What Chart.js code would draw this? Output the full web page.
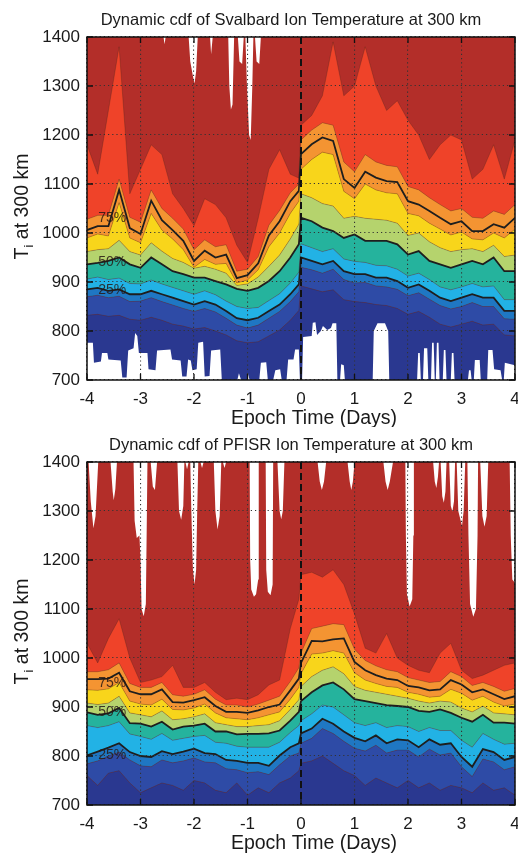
<!DOCTYPE html>
<html>
<head>
<meta charset="utf-8">
<script src="https://cdn.jsdelivr.net/npm/chart.js@4.4.1/dist/chart.umd.min.js"></script>
<style>
  body { margin: 0; background: #fff; }
  canvas { display: block; }
</style>
</head>
<body>
<canvas id="svalbard" width="518" height="427"></canvas>
<canvas id="pfisr" width="518" height="427"></canvas>
<script>
// Epoch time samples (days) shared by every percentile curve
const days = [-4, -3.8, -3.6, -3.4, -3.2, -3, -2.8, -2.6, -2.4, -2.2, -2, -1.8, -1.6, -1.4, -1.2, -1, -0.8, -0.6, -0.4, -0.2, -0.04,
              0, 0.2, 0.4, 0.6, 0.8, 1, 1.2, 1.4, 1.6, 1.8, 2, 2.2, 2.4, 2.6, 2.8, 3, 3.2, 3.4, 3.6, 3.8, 4];
const dayTicks = [-4, -3, -2, -1, 0, 1, 2, 3, 4];
const tempTicks = [700, 800, 900, 1000, 1100, 1200, 1300, 1400];
const levelNames = ['5%', '15%', '25%', '35%', '50%', '60%', '70%', '75%', '80%', '90%'];

// Svalbard percentile curves (K)
const svP05 = [832, 834, 830, 832, 824, 822, 828, 822, 814, 810, 804, 807, 800, 792, 780, 776, 778, 790, 802, 822, 842, 892, 886, 880, 884, 864, 860, 858, 854, 852, 846, 834, 840, 828, 814, 808, 814, 820, 812, 814, 792, 790];
const svP15 = [870, 873, 868, 871, 860, 861, 868, 860, 853, 846, 840, 846, 839, 826, 812, 806, 812, 826, 840, 860, 880, 930, 925, 918, 926, 905, 898, 899, 892, 890, 885, 872, 878, 865, 852, 845, 850, 858, 850, 850, 825, 824];
const svP25 = [885, 888, 882, 885, 875, 875, 882, 875, 868, 861, 854, 861, 854, 841, 826, 822, 827, 841, 854, 875, 895, 950, 943, 936, 943, 922, 916, 916, 909, 909, 902, 888, 895, 882, 868, 861, 868, 875, 868, 868, 841, 841];
const svP35 = [906, 910, 905, 908, 897, 896, 904, 896, 889, 882, 875, 882, 874, 861, 850, 846, 848, 862, 876, 898, 920, 978, 970, 962, 968, 947, 942, 940, 934, 933, 926, 912, 918, 905, 890, 884, 890, 897, 890, 892, 864, 864];
const svP50 = [936, 939, 943, 950, 936, 929, 950, 936, 922, 916, 909, 909, 902, 895, 886, 882, 888, 902, 922, 950, 977, 1031, 1024, 1011, 1004, 990, 997, 984, 984, 984, 977, 956, 963, 943, 936, 929, 936, 943, 936, 950, 922, 922];
const svP60 = [962, 966, 968, 985, 962, 955, 980, 963, 948, 940, 928, 932, 926, 918, 893, 896, 910, 932, 955, 988, 1018, 1080, 1072, 1060, 1055, 1030, 1034, 1030, 1028, 1026, 1020, 995, 1000, 982, 970, 962, 966, 968, 962, 975, 952, 955];
const svP70 = [990, 998, 994, 1062, 990, 980, 1040, 1006, 988, 966, 930, 946, 936, 938, 898, 904, 925, 972, 1000, 1040, 1065, 1130, 1150, 1165, 1160, 1085, 1070, 1100, 1088, 1082, 1080, 1040, 1035, 1020, 1008, 996, 1002, 988, 986, 1000, 990, 1008];
const svP75 = [1006, 1014, 1014, 1088, 1010, 998, 1066, 1026, 1006, 984, 943, 964, 950, 956, 908, 914, 938, 995, 1024, 1065, 1086, 1161, 1181, 1195, 1188, 1110, 1092, 1125, 1113, 1106, 1104, 1065, 1058, 1045, 1031, 1018, 1024, 1004, 1004, 1018, 1011, 1031];
const svP80 = [1028, 1036, 1036, 1110, 1032, 1022, 1088, 1050, 1030, 1008, 966, 986, 972, 976, 922, 926, 952, 1016, 1046, 1082, 1100, 1190, 1210, 1225, 1220, 1145, 1125, 1160, 1145, 1138, 1135, 1095, 1088, 1072, 1058, 1045, 1050, 1032, 1030, 1045, 1038, 1058];
const svP90 = [1180, 1120, 1250, 1380, 1080, 1130, 1180, 1160, 1080, 1050, 1015, 1070, 1058, 1031, 975, 940, 1030, 1130, 1170, 1120, 1112, 1220, 1240, 1280, 1390, 1280, 1300, 1380, 1300, 1250, 1270, 1230, 1200, 1150, 1180, 1200, 1190, 1110, 1130, 1180, 1110, 1190];

// Svalbard data gaps: [day, K] outlines of the blank areas
const svTopGap = [[-4, 1400], [-2.57, 1400], [-2.55, 1385], [-2.53, 1400], [-2.10, 1400], [-2.07, 1350], [-2.02, 1320], [-1.99, 1305], [-1.96, 1330], [-1.93, 1400],
  [-1.70, 1400], [-1.68, 1365], [-1.65, 1400], [-1.36, 1400], [-1.34, 1300], [-1.31, 1252], [-1.28, 1262], [-1.25, 1400],
  [-1.18, 1400], [-1.15, 1350], [-1.10, 1345], [-1.07, 1400], [-1.04, 1400], [-1.01, 1300], [-0.97, 1200], [-0.94, 1190], [-0.91, 1300], [-0.89, 1400],
  [-0.86, 1400], [-0.83, 1350], [-0.78, 1345], [-0.75, 1400], [4, 1400]];
const svBottomGap = [[-4, 776], [-3.89, 776], [-3.87, 735], [-3.74, 738], [-3.72, 755], [-3.62, 755], [-3.60, 742], [-3.37, 740], [-3.34, 705], [-3.26, 705],
  [-3.23, 760], [-3.13, 765], [-3.10, 796], [-3.06, 790], [-3.03, 755], [-2.87, 755], [-2.85, 722], [-2.72, 720], [-2.69, 760], [-2.44, 762],
  [-2.41, 742], [-2.25, 740], [-2.22, 707], [-2.14, 707], [-2.11, 742], [-2.06, 740], [-2.03, 720], [-1.95, 722], [-1.92, 776], [-1.83, 778],
  [-1.80, 707], [-1.71, 708], [-1.68, 760], [-1.51, 762], [-1.48, 700], [-1.19, 700], [-1.16, 714], [-1.12, 700], [-1.01, 700], [-0.99, 712],
  [-0.96, 700], [-0.78, 700], [-0.75, 735], [-0.65, 736], [-0.62, 700], [-0.52, 700], [-0.48, 720], [-0.39, 722], [-0.36, 700], [-0.27, 700],
  [-0.24, 742], [-0.14, 742], [-0.11, 762], [-0.04, 762], [-0.02, 700], [0.02, 700], [0.04, 788], [0.20, 790], [0.22, 817], [0.27, 818],
  [0.30, 792], [0.37, 800], [0.41, 810], [0.49, 802], [0.56, 806], [0.59, 816], [0.66, 816], [0.68, 700], [0.73, 700], [0.75, 732],
  [0.80, 730], [0.82, 700], [1.34, 700], [1.36, 800], [1.43, 816], [1.57, 816], [1.63, 800], [1.65, 700], [2.17, 700], [2.19, 755],
  [2.22, 755], [2.24, 700], [2.28, 700], [2.30, 765], [2.36, 765], [2.38, 700], [2.43, 700], [2.45, 776], [2.48, 776], [2.50, 700],
  [2.52, 700], [2.54, 776], [2.57, 776], [2.59, 700], [2.65, 700], [2.67, 761], [2.70, 761], [2.72, 700], [2.80, 700], [2.82, 755],
  [2.85, 755], [2.87, 700], [3.12, 700], [3.14, 720], [3.17, 720], [3.19, 700], [3.23, 700], [3.25, 741], [3.34, 741], [3.36, 700],
  [3.48, 700], [3.50, 761], [3.58, 761], [3.61, 722], [3.73, 720], [3.76, 700], [3.79, 700], [3.81, 735], [4, 730]];

// PFISR percentile curves (K)
const pfP05 = [760, 740, 765, 770, 745, 725, 735, 745, 740, 730, 750, 745, 730, 725, 745, 720, 735, 725, 745, 755, 770, 785, 790, 800, 785, 770, 760, 740, 755, 745, 735, 750, 735, 745, 730, 740, 735, 725, 745, 730, 735, 720];
const pfP15 = [784, 790, 800, 808, 792, 780, 778, 792, 786, 790, 796, 788, 786, 774, 772, 766, 768, 762, 782, 800, 806, 826, 836, 856, 846, 830, 816, 810, 822, 806, 812, 812, 798, 814, 802, 806, 778, 758, 794, 788, 772, 778];
const pfP25 = [801, 809, 817, 826, 808, 800, 798, 810, 804, 809, 815, 806, 804, 792, 790, 786, 786, 780, 801, 818, 826, 846, 856, 876, 866, 850, 837, 830, 842, 826, 834, 832, 818, 834, 823, 826, 798, 778, 814, 808, 792, 798];
const pfP35 = [862, 858, 862, 870, 845, 840, 834, 846, 832, 836, 840, 842, 828, 826, 820, 818, 818, 818, 828, 848, 862, 872, 886, 904, 900, 884, 868, 862, 868, 858, 862, 860, 850, 858, 852, 852, 832, 818, 846, 834, 824, 826];
const pfP50 = [889, 884, 887, 898, 867, 866, 860, 870, 854, 860, 862, 866, 850, 850, 844, 845, 845, 846, 852, 872, 890, 912, 930, 944, 950, 936, 916, 912, 908, 904, 902, 900, 892, 890, 895, 888, 878, 870, 884, 868, 868, 866];
const pfP60 = [908, 905, 908, 922, 888, 884, 880, 892, 874, 876, 880, 886, 868, 864, 860, 860, 862, 864, 872, 895, 915, 942, 962, 975, 982, 968, 942, 934, 930, 926, 922, 918, 912, 908, 912, 910, 898, 890, 902, 888, 886, 884];
const pfP70 = [935, 934, 937, 950, 912, 906, 904, 916, 895, 894, 898, 906, 888, 878, 876, 874, 878, 884, 890, 916, 940, 968, 1008, 1010, 1015, 1010, 970, 955, 948, 942, 940, 930, 926, 920, 922, 936, 928, 914, 922, 910, 902, 906];
const pfP75 = [957, 957, 958, 970, 932, 926, 926, 936, 910, 909, 914, 920, 902, 890, 890, 888, 893, 900, 905, 934, 958, 990, 1035, 1034, 1038, 1040, 992, 975, 965, 958, 955, 943, 940, 934, 936, 955, 946, 930, 936, 926, 916, 922];
const pfP80 = [972, 972, 976, 990, 948, 940, 940, 950, 925, 922, 926, 935, 916, 904, 904, 900, 906, 914, 922, 952, 980, 1010, 1060, 1065, 1070, 1068, 1018, 995, 984, 976, 972, 960, 955, 950, 952, 972, 962, 944, 950, 942, 932, 938];
const pfP90 = [1030, 990, 1040, 1080, 1000, 950, 955, 962, 985, 940, 940, 950, 930, 915, 918, 915, 925, 945, 955, 1060, 1120, 1170, 1175, 1165, 1180, 1150, 1090, 1020, 1010, 1050, 1000, 985, 975, 970, 1010, 1030, 975, 958, 965, 975, 985, 990];

const pfTopGap = [[-4, 1400], [-3.97, 1400], [-3.93, 1320], [-3.88, 1265], [-3.84, 1290], [-3.79, 1400],
  [-3.56, 1400], [-3.52, 1340], [-3.50, 1322], [-3.47, 1345], [-3.44, 1400],
  [-3.13, 1400], [-3.11, 1280], [-3.07, 1245], [-3.02, 1250], [-3.00, 1200], [-2.98, 1100], [-2.94, 1085], [-2.90, 1110], [-2.88, 1300], [-2.87, 1400],
  [-2.81, 1400], [-2.77, 1350], [-2.73, 1343], [-2.69, 1400],
  [-2.31, 1400], [-2.28, 1300], [-2.24, 1282], [-2.20, 1310], [-2.18, 1400], [-2.16, 1400], [-2.13, 1385], [-2.10, 1400],
  [-2.07, 1400], [-2.05, 1300], [-2.02, 1180], [-1.99, 1150], [-1.96, 1180], [-1.94, 1300], [-1.92, 1400],
  [-1.88, 1400], [-1.85, 1388], [-1.82, 1400], [-1.63, 1400], [-1.60, 1300], [-1.56, 1262], [-1.52, 1290], [-1.49, 1400],
  [-1.46, 1400], [-1.43, 1388], [-1.40, 1400],
  [-0.96, 1400], [-0.95, 1200], [-0.93, 1140], [-0.88, 1125], [-0.84, 1130], [-0.80, 1160], [-0.79, 1400],
  [-0.66, 1400], [-0.65, 1180], [-0.62, 1135], [-0.57, 1128], [-0.53, 1150], [-0.52, 1400],
  [-0.44, 1400], [-0.40, 1300], [-0.37, 1283], [-0.34, 1300], [-0.31, 1400],
  [0.31, 1400], [0.35, 1360], [0.39, 1343], [0.43, 1360], [0.47, 1400],
  [0.87, 1400], [0.91, 1360], [0.94, 1343], [0.97, 1360], [1.00, 1400],
  [1.54, 1400], [1.58, 1360], [1.62, 1343], [1.66, 1360], [1.69, 1380], [1.72, 1400],
  [1.95, 1400], [1.96, 1250], [1.98, 1130], [2.03, 1105], [2.08, 1120], [2.10, 1250], [2.11, 1400],
  [2.47, 1400], [2.50, 1360], [2.53, 1347], [2.56, 1370], [2.58, 1400],
  [2.61, 1400], [2.64, 1330], [2.67, 1317], [2.70, 1340], [2.72, 1400],
  [2.77, 1400], [2.80, 1310], [2.83, 1299], [2.86, 1320], [2.88, 1400],
  [2.91, 1400], [2.94, 1300], [2.98, 1282], [3.01, 1270], [3.04, 1300], [3.07, 1400],
  [3.11, 1400], [3.13, 1250], [3.16, 1110], [3.22, 1084], [3.27, 1100], [3.30, 1250], [3.31, 1400],
  [3.35, 1400], [3.39, 1290], [3.43, 1268], [3.47, 1290], [3.50, 1400],
  [3.90, 1400], [3.92, 1250], [3.95, 1160], [4, 1153]];

// where the contour labels sit: [text, day, K]
const svLabels = [['75%', -3.53, 1030], ['50%', -3.53, 941], ['25%', -3.53, 884]];
const pfLabels = [['75%', -3.53, 949], ['50%', -3.53, 890], ['25%', -3.53, 802]];

// colours from the lowest band up; the band above 90% is the dark red backdrop
const bandColors = ['#2a3890', '#2e4ba6', '#1f77c3', '#22b2e5', '#25b39d', '#b5d36d', '#f8d51b', '#f49432', '#f49432', '#ef4329'];
const aboveColor = '#b32e29';
const boldLevels = ['25%', '50%', '75%'];
const FONT = '"Liberation Sans", Arial, Helvetica, sans-serif';

function curve(vals) {
    return days.map((d, i) => ({ x: d, y: vals[i] }));
}

function outline(list) {
    return list.map(p => ({ x: p[0], y: p[1] }));
}

function bandDatasets(bounds) {
    return bounds.map((vals, i) => {
        const bold = boldLevels.includes(levelNames[i]);
        return {
            label: levelNames[i],
            data: curve(vals),
            fill: i === 0 ? 'start' : '-1',
            backgroundColor: bandColors[i],
            borderColor: bold ? '#1e1e1e' : 'rgba(60, 35, 25, 0.4)',
            borderWidth: bold ? 1.8 : 0.7,
            pointRadius: 0,
            tension: 0
        };
    });
}

function gapDataset(list, side) {
    return {
        label: 'no data',
        data: outline(list),
        fill: side,
        backgroundColor: '#ffffff',
        borderWidth: 0,
        pointRadius: 0,
        tension: 0,
        order: -1
    };
}

const panelDecor = {
    id: 'panelDecor',
    beforeDatasetsDraw(chart, args, opts) {
        const a = chart.chartArea;
        const ctx = chart.ctx;
        ctx.save();
        ctx.fillStyle = aboveColor;
        ctx.fillRect(a.left, a.top, a.right - a.left, a.bottom - a.top);
        ctx.restore();
    },
    afterDatasetsDraw(chart, args, opts) {
        const ctx = chart.ctx;
        const xs = chart.scales.x, ys = chart.scales.y;
        ctx.save();
        ctx.font = '14px ' + FONT;
        ctx.fillStyle = 'rgba(40, 25, 20, 0.85)';
        ctx.textAlign = 'center';
        ctx.textBaseline = 'middle';
        opts.labels.forEach(l => {
            ctx.fillText(l[0], xs.getPixelForValue(l[1]), ys.getPixelForValue(l[2]));
        });
        ctx.restore();
    },
    afterDraw(chart, args, opts) {
        const a = chart.chartArea;
        const ctx = chart.ctx;
        const xs = chart.scales.x, ys = chart.scales.y;
        ctx.save();

        // frame with inward tick marks
        ctx.strokeStyle = '#111';
        ctx.lineWidth = 1.5;
        ctx.strokeRect(a.left, a.top, a.right - a.left, a.bottom - a.top);
        ctx.lineWidth = 1.3;
        ctx.beginPath();
        xs.ticks.forEach(t => {
            const px = xs.getPixelForValue(t.value);
            ctx.moveTo(px, a.top); ctx.lineTo(px, a.top + 6);
            ctx.moveTo(px, a.bottom); ctx.lineTo(px, a.bottom - 6);
        });
        ys.ticks.forEach(t => {
            const py = ys.getPixelForValue(t.value);
            ctx.moveTo(a.left, py); ctx.lineTo(a.left + 6, py);
            ctx.moveTo(a.right, py); ctx.lineTo(a.right - 6, py);
        });
        ctx.stroke();

        ctx.fillStyle = '#1a1a1a';
        ctx.textAlign = 'center';
        ctx.textBaseline = 'middle';
        ctx.font = '16.5px ' + FONT;
        ctx.fillText(opts.title, (a.left + a.right) / 2 - 10, a.top - 17);
        ctx.font = '19.5px ' + FONT;
        ctx.fillText('Epoch Time (Days)', (a.left + a.right) / 2 + 13, a.bottom + 39);

        // T_i at 300 km, rotated, with a subscript
        const big = '19.5px ' + FONT, small = '13px ' + FONT;
        ctx.translate(23, (a.top + a.bottom) / 2 - 2);
        ctx.rotate(-Math.PI / 2);
        ctx.font = big;
        const wT = ctx.measureText('T').width;
        const wRest = ctx.measureText(' at 300 km').width;
        ctx.font = small;
        const wi = ctx.measureText('i').width;
        const x0 = -(wT + wi + wRest) / 2;
        ctx.textAlign = 'left';
        ctx.font = big;
        ctx.fillText('T', x0, 0);
        ctx.font = small;
        ctx.fillText('i', x0 + wT, 6);
        ctx.font = big;
        ctx.fillText(' at 300 km', x0 + wT + wi, 0);
        ctx.restore();
    }
};

function isZero(c) {
    return c.tick && c.tick.value === 0;
}

function makePanel(id, cfg) {
    const datasets = bandDatasets(cfg.bounds);
    if (cfg.topGap) datasets.push(gapDataset(cfg.topGap, 'end'));
    if (cfg.bottomGap) datasets.push(gapDataset(cfg.bottomGap, 'start'));

    return new Chart(document.getElementById(id), {
        type: 'line',
        data: { datasets: datasets },
        options: {
            responsive: false,
            animation: false,
            events: [],
            layout: { padding: { left: 0, right: 3, top: cfg.areaTop, bottom: 0 } },
            scales: {
                x: {
                    type: 'linear',
                    min: -4,
                    max: 4,
                    afterBuildTicks: s => { s.ticks = dayTicks.map(v => ({ value: v })); },
                    afterFit: s => { s.height = cfg.axisHeight; s.paddingLeft = 0; s.paddingRight = 0; },
                    grid: {
                        z: 1,
                        drawTicks: false,
                        color: c => isZero(c) ? '#111' : '#333',
                        lineWidth: c => isZero(c) ? 2 : 1.1
                    },
                    border: { display: false, dash: c => isZero(c) ? [7, 4] : [1.2, 3] },
                    ticks: {
                        padding: 9,
                        color: '#1a1a1a',
                        font: { family: FONT, size: 17 },
                        maxRotation: 0,
                        autoSkip: false,
                        callback: v => String(v)
                    }
                },
                y: {
                    min: 700,
                    max: 1400,
                    afterBuildTicks: s => { s.ticks = tempTicks.map(v => ({ value: v })); },
                    afterFit: s => { s.width = 87; },
                    grid: { z: 1, drawTicks: false, color: '#333', lineWidth: 1.1 },
                    border: { display: false, dash: [1.2, 3] },
                    ticks: {
                        padding: 7,
                        color: '#1a1a1a',
                        font: { family: FONT, size: 17 },
                        callback: v => String(v)
                    }
                }
            },
            plugins: {
                legend: { display: false },
                tooltip: { enabled: false },
                panelDecor: { title: cfg.title, labels: cfg.labels }
            }
        },
        plugins: [panelDecor]
    });
}

makePanel('svalbard', {
    title: 'Dynamic cdf of Svalbard Ion Temperature at 300 km',
    bounds: [svP05, svP15, svP25, svP35, svP50, svP60, svP70, svP75, svP80, svP90],
    topGap: svTopGap,
    bottomGap: svBottomGap,
    labels: svLabels,
    areaTop: 37,
    axisHeight: 47
});

makePanel('pfisr', {
    title: 'Dynamic cdf of PFISR Ion Temperature at 300 km',
    bounds: [pfP05, pfP15, pfP25, pfP35, pfP50, pfP60, pfP70, pfP75, pfP80, pfP90],
    topGap: pfTopGap,
    bottomGap: null,
    labels: pfLabels,
    areaTop: 35,
    axisHeight: 49
});
</script>
</body>
</html>
